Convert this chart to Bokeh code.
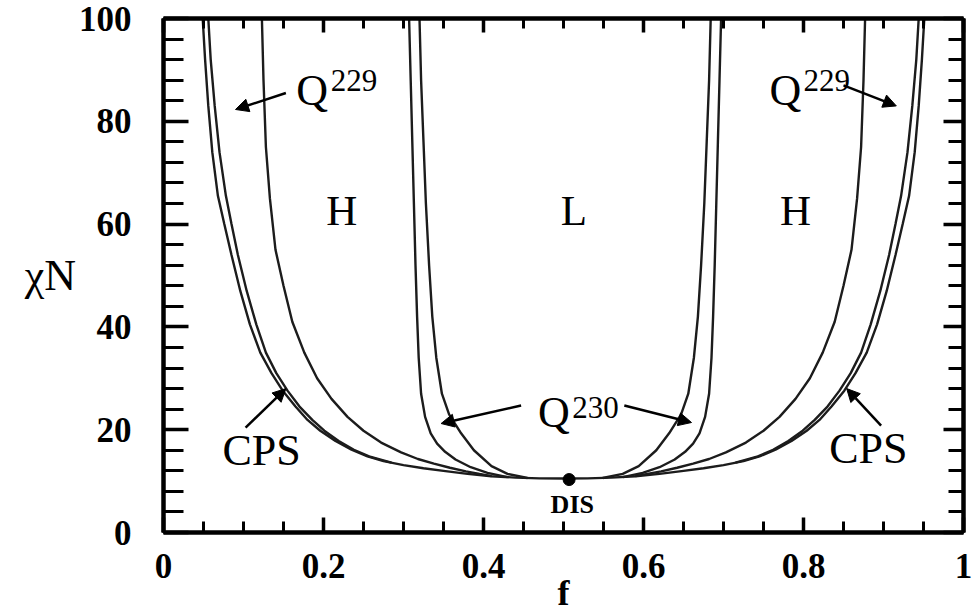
from bokeh.plotting import figure
from bokeh.models import (Range1d, LinearAxis, FixedTicker, Label, Arrow, NormalHead,
                          NumeralTickFormatter)
from bokeh.embed import file_html
from bokeh.resources import INLINE

# ---------------- data ----------------
x_ticks = [0, 0.2, 0.4, 0.6, 0.8, 1.0]
x_tick_labels = ["0", "0.2", "0.4", "0.6", "0.8", "1"]
y_ticks = [0, 20, 40, 60, 80, 100]

# DIS / CPS order-disorder boundary (full curve, left to right)
dis_f = [0.049, 0.052, 0.056, 0.061, 0.068, 0.076, 0.085, 0.096, 0.108, 0.121, 0.135,
         0.149, 0.165, 0.180, 0.196, 0.215, 0.235, 0.255, 0.275, 0.300, 0.325, 0.350,
         0.380, 0.410, 0.440, 0.470, 0.500,
         0.530, 0.560, 0.590, 0.620, 0.650, 0.675, 0.700, 0.725, 0.745, 0.765, 0.785,
         0.804, 0.820, 0.835, 0.851, 0.865, 0.879, 0.892, 0.904, 0.915, 0.924, 0.932,
         0.939, 0.944, 0.948, 0.951]
dis_chi = [100, 92, 83, 74, 65.5, 60, 54, 47, 40.5, 35, 31, 27.6, 24.5, 21.9, 19.8, 17.8,
           16.1, 14.8, 13.9, 13.1, 12.5, 12.0, 11.4, 10.95, 10.68, 10.53, 10.495,
           10.53, 10.68, 10.95, 11.4, 12.0, 12.5, 13.1, 13.9, 14.8, 16.1, 17.8, 19.8,
           21.9, 24.5, 27.6, 31, 35, 40.5, 47, 54, 60, 65.5, 74, 83, 92, 100]

# CPS / Q229 boundary
cps_chi = [100, 92, 83, 74, 65.5, 60, 54, 47, 40.5, 35, 31, 27.6, 24.5, 21.9, 19.8,
           17.8, 16.1, 14.8, 13.6]
cps_f_left = [0.056, 0.059, 0.064, 0.070, 0.078, 0.085, 0.093, 0.104, 0.116, 0.128,
              0.141, 0.155, 0.170, 0.186, 0.201, 0.219, 0.238, 0.257, 0.285]
cps_f_right = [0.944, 0.941, 0.936, 0.930, 0.922, 0.915, 0.907, 0.896, 0.884, 0.872,
               0.859, 0.845, 0.830, 0.814, 0.799, 0.781, 0.762, 0.743, 0.715]

# Q229 / H boundary
q229_chi = [100, 88, 75, 65, 55, 48, 41, 35, 30, 26, 22.5, 19.8, 17.5, 15.6, 14.3,
            13.4, 12.6, 11.9, 11.4, 10.97]
q229_f_left = [0.123, 0.125, 0.128, 0.133, 0.140, 0.150, 0.161, 0.176, 0.192, 0.210,
               0.230, 0.250, 0.272, 0.297, 0.318, 0.338, 0.358, 0.378, 0.395, 0.410]
q229_f_right = [0.877, 0.875, 0.872, 0.867, 0.860, 0.850, 0.839, 0.824, 0.808, 0.790,
                0.770, 0.750, 0.728, 0.703, 0.682, 0.662, 0.642, 0.622, 0.605, 0.590]

# H / Q230 boundary
hq_chi = [100, 88, 76, 64, 52, 42, 34, 27, 22.5, 19.3, 17.3, 15.7, 14.2, 12.7, 11.6, 10.78]
hq_f_left = [0.307, 0.309, 0.311, 0.313, 0.315, 0.317, 0.319, 0.322, 0.327, 0.334,
             0.342, 0.352, 0.365, 0.384, 0.405, 0.430]
hq_f_right = [0.697, 0.695, 0.693, 0.691, 0.689, 0.687, 0.685, 0.682, 0.677, 0.670,
              0.662, 0.652, 0.639, 0.620, 0.599, 0.574]

# Q230 / L boundary
ql_chi = [100, 88, 76, 64, 52, 42, 34, 27, 23, 19.3, 16, 12.9, 11.4, 10.6]
ql_f_left = [0.320, 0.322, 0.325, 0.328, 0.332, 0.336, 0.341, 0.348, 0.357, 0.372,
             0.388, 0.410, 0.430, 0.455]
ql_f_right = [0.684, 0.682, 0.679, 0.676, 0.672, 0.668, 0.663, 0.656, 0.647, 0.632,
              0.616, 0.594, 0.574, 0.549]

# critical point
crit_f = [0.507]
crit_chi = [10.3]

# ---------------- figure ----------------
SERIF = "Liberation Serif"
LINE = "#1c1c1c"

p = figure(frame_width=800, frame_height=514, x_range=Range1d(0, 1), y_range=Range1d(0, 100),
           output_backend="svg", toolbar_location=None,
           min_border_left=163, min_border_right=11, min_border_top=18, min_border_bottom=79)
p.grid.visible = False
p.outline_line_color = None
p.background_fill_color = "white"
p.border_fill_color = "white"

x_minor = [i * 0.05 for i in range(21)]
y_minor = list(range(0, 101, 4))


def style(axis, ticker, major_in, minor_in, labels):
    axis.ticker = ticker
    axis.axis_line_width = 4.5
    axis.axis_line_color = "black"
    axis.major_tick_in = major_in
    axis.major_tick_out = 0
    axis.minor_tick_in = minor_in
    axis.minor_tick_out = 0
    axis.major_tick_line_width = 3.5
    axis.minor_tick_line_width = 3
    axis.major_tick_line_color = "black"
    axis.minor_tick_line_color = "black"
    if labels:
        axis.major_label_text_font = SERIF
        axis.major_label_text_font_style = "bold"
        axis.major_label_text_font_size = "35px"
        axis.major_label_text_color = "black"
    else:
        axis.major_label_text_font_size = "1px"
        axis.major_label_text_alpha = 0
        axis.major_label_text_color = None
        axis.major_label_standoff = 0


xb = p.xaxis[0]
style(xb, FixedTicker(ticks=x_ticks, minor_ticks=x_minor), 15, 11, True)
xb.formatter = NumeralTickFormatter(format="0.[0]")
xb.major_label_overrides = {t: l for t, l in zip(x_ticks, x_tick_labels)}
xb.major_label_standoff = 21
xb.axis_label = "f"
xb.axis_label_text_font = SERIF
xb.axis_label_text_font_style = "bold"
xb.axis_label_text_font_size = "36px"
xb.axis_label_text_color = "black"
xb.axis_label_standoff = -8

yl = p.yaxis[0]
style(yl, FixedTicker(ticks=y_ticks, minor_ticks=y_minor), 25, 20, True)
yl.major_label_standoff = 32

xt = LinearAxis()
style(xt, FixedTicker(ticks=x_ticks, minor_ticks=x_minor), 14, 10, False)
p.add_layout(xt, "above")
yr = LinearAxis()
style(yr, FixedTicker(ticks=y_ticks, minor_ticks=y_minor), 20, 15, False)
p.add_layout(yr, "right")

# curves
p.line(dis_f, dis_chi, line_color=LINE, line_width=2.4)
for fl, fr, ch in [(cps_f_left, cps_f_right, cps_chi),
                   (q229_f_left, q229_f_right, q229_chi),
                   (hq_f_left, hq_f_right, hq_chi),
                   (ql_f_left, ql_f_right, ql_chi)]:
    p.line(fl, ch, line_color=LINE, line_width=2.4)
    p.line(fr, ch, line_color=LINE, line_width=2.4)

p.scatter(crit_f, crit_chi, size=12, color="black")


def lab(x, y, text, size, bold=False, align="center", baseline="middle"):
    p.add_layout(Label(x=x, y=y, text=text, text_font=SERIF, text_font_size=size,
                       text_font_style="bold" if bold else "normal", text_color="black",
                       text_align=align, text_baseline=baseline))


def arrow(x0, y0, x1, y1):
    p.add_layout(Arrow(end=NormalHead(size=13, fill_color="black", line_color="black"),
                       x_start=x0, y_start=y0, x_end=x1, y_end=y1,
                       line_color="black", line_width=2.5))


# phase labels
lab(0.223, 62.6, "H", "43px")
lab(0.513, 62.6, "L", "43px")
lab(0.790, 62.6, "H", "43px")
lab(0.1227, 16.0, "CPS", "44px")
lab(0.881, 16.3, "CPS", "44px")
lab(0.511, 5.4, "DIS", "26px", bold=True)

# Q229 left / right
lab(0.166, 86.0, "Q", "44px", align="left", baseline="alphabetic")
lab(0.209, 88.0, "229", "31px", align="left", baseline="alphabetic")
lab(0.7575, 86.0, "Q", "44px", align="left", baseline="alphabetic")
lab(0.800, 88.0, "229", "31px", align="left", baseline="alphabetic")
# Q230
lab(0.468, 23.3, "Q", "44px", align="left", baseline="alphabetic")
lab(0.511, 24.3, "230", "31px", align="left", baseline="alphabetic")

# arrows
arrow(0.153, 85.5, 0.090, 82.3)
arrow(0.850, 87.0, 0.916, 83.0)
arrow(0.1026, 20.4, 0.153, 28.0)
arrow(0.897, 20.8, 0.854, 28.0)
arrow(0.447, 24.7, 0.347, 21.2)
arrow(0.576, 24.7, 0.660, 21.4)

# y axis title
if "axis_label_orientation" in yl.properties():
    yl.axis_label = "\u03c7N"
    yl.axis_label_orientation = "horizontal"
    yl.axis_label_text_font = SERIF
    yl.axis_label_text_font_style = "normal"
    yl.axis_label_text_font_size = "44px"
    yl.axis_label_text_color = "black"
    yl.axis_label_standoff = 0
else:
    lab(-0.181, 47.0, "\u03c7", "44px", bold=True, align="left", baseline="alphabetic")
    lab(-0.136, 47.0, "N", "42px", align="left", baseline="alphabetic")

open("out.html", "w").write(file_html(p, INLINE))
